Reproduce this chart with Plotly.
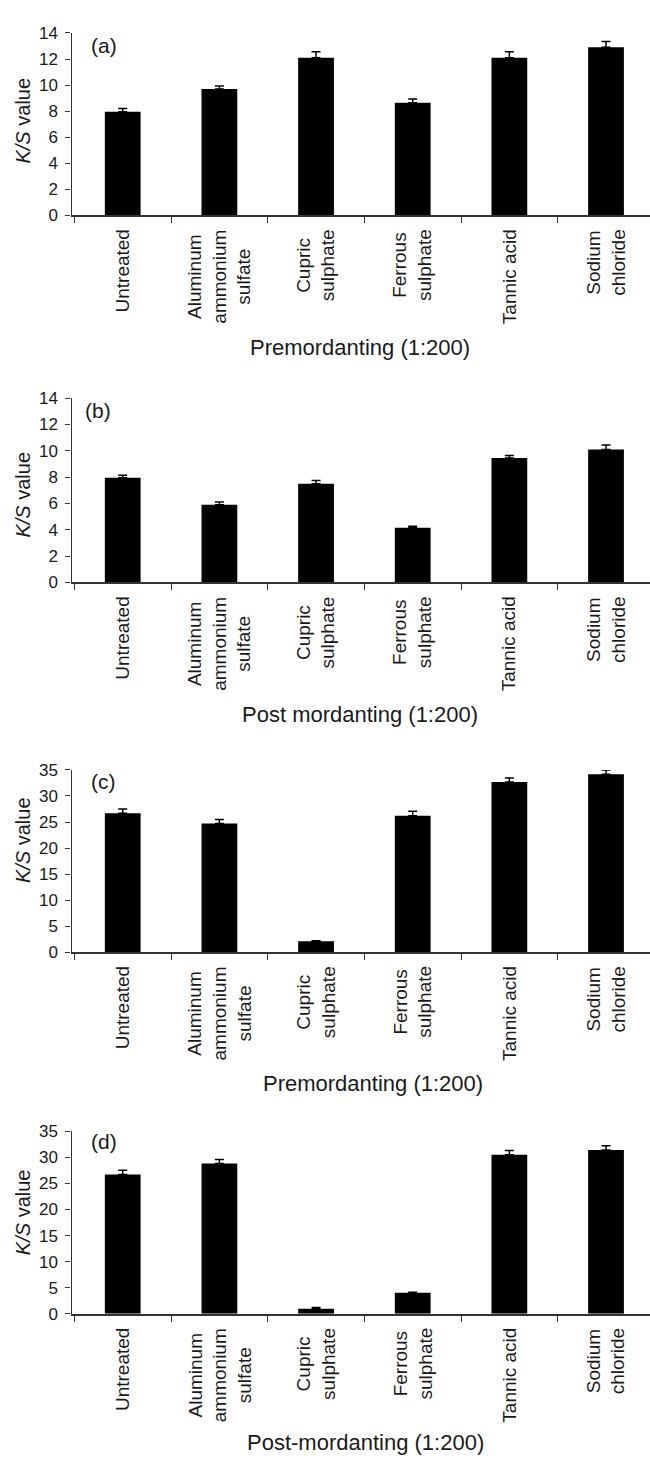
import plotly.graph_objects as go

# Mordant treatments on the x axis (line breaks kept as in the printed labels)
categories = [
    "Untreated",
    "Aluminum<br>ammonium<br>sulfate",
    "Cupric<br>sulphate",
    "Ferrous<br>sulphate",
    "Tannic acid",
    "Sodium<br>chloride",
]

# K/S values and standard errors for each panel
ks_a = [7.95, 9.7, 12.1, 8.65, 12.1, 12.9]
err_a = [0.25, 0.22, 0.45, 0.28, 0.45, 0.45]

ks_b = [7.95, 5.9, 7.5, 4.15, 9.45, 10.1]
err_b = [0.2, 0.22, 0.25, 0.12, 0.2, 0.35]

ks_c = [26.7, 24.7, 2.1, 26.2, 32.7, 34.2]
err_c = [0.8, 0.8, 0.1, 0.85, 0.75, 0.8]

ks_d = [26.7, 28.8, 0.95, 4.05, 30.5, 31.4]
err_d = [0.8, 0.8, 0.25, 0.1, 0.8, 0.8]

panel_tags = ["(a)", "(b)", "(c)", "(d)"]
x_titles = [
    "Premordanting (1:200)",
    "Post mordanting (1:200)",
    "Premordanting (1:200)",
    "Post-mordanting (1:200)",
]
y_max = [14, 14, 35, 35]
y_step = [2, 2, 5, 5]

values = [ks_a, ks_b, ks_c, ks_d]
errors = [err_a, err_b, err_c, err_d]

# ---- page geometry (pixels) ----
W, H = 650, 1463
AXIS_LEFT = 71.5
FONT = "Liberation Sans, Arial, sans-serif"
INK = "#1a1a1a"
AXIS_COLOR = "#333333"

# per panel: plot top, plot bottom, tag (left, centre y), y-title centre y, x-title centre (x, y)
geom = [
    dict(top=24.3, bottom=209.0, tag=(89, 37), ytc=113, xt=(360, 343)),
    dict(top=394.3, bottom=581.0, tag=(83, 407), ytc=492, xt=(360, 715)),
    dict(top=771.0, bottom=955.5, tag=(89, 783), ytc=842, xt=(373, 1089)),
    dict(top=1137.0, bottom=1322.0, tag=(89, 1147), ytc=1219, xt=(366, 1452)),
]


def fx(p):
    return p / W


def fy(p):
    return 1 - p / H


fig = go.Figure()
annotations = []
x_pos = list(range(len(categories)))

for k in range(4):
    n = "" if k == 0 else str(k + 1)
    g = geom[k]
    fig.add_trace(
        go.Bar(
            x=x_pos,
            y=values[k],
            width=0.37,
            marker=dict(color="black", line=dict(width=0)),
            error_y=dict(
                type="data",
                array=errors[k],
                arrayminus=[0] * len(errors[k]),
                symmetric=False,
                color="black",
                thickness=1.5,
                width=4.5,
            ),
            xaxis="x" + n,
            yaxis="y" + n,
            showlegend=False,
        )
    )

    fig.layout["xaxis" + n] = dict(
        domain=[fx(AXIS_LEFT), 1],
        range=[-0.53, 5.455],
        anchor="y" + n,
        tickmode="array",
        tickvals=[i - 0.5 for i in range(len(categories) + 1)],
        showticklabels=False,
        ticks="outside",
        ticklen=6,
        tickwidth=1.3,
        tickcolor=AXIS_COLOR,
        showline=True,
        linecolor=AXIS_COLOR,
        linewidth=1.5,
        showgrid=False,
        zeroline=False,
        fixedrange=True,
    )
    fig.layout["yaxis" + n] = dict(
        domain=[fy(g["bottom"]), fy(g["top"])],
        range=[0, y_max[k]],
        anchor="x" + n,
        dtick=y_step[k],
        tick0=0,
        ticks="outside",
        ticklen=5,
        tickwidth=1.3,
        tickcolor=AXIS_COLOR,
        ticklabelstandoff=4,
        tickfont=dict(family=FONT, size=17, color=INK),
        showline=True,
        linecolor=AXIS_COLOR,
        linewidth=1.3,
        showgrid=False,
        zeroline=False,
        fixedrange=True,
    )

    # panel tag
    annotations.append(dict(
        text=panel_tags[k], xref="paper", yref="paper",
        x=fx(g["tag"][0]), y=fy(g["tag"][1]),
        xanchor="left", yanchor="middle", showarrow=False,
        font=dict(family=FONT, size=21, color=INK),
    ))
    # y-axis title
    annotations.append(dict(
        text="<i>K/S</i> value", xref="paper", yref="paper",
        x=fx(23), y=fy(g["ytc"]), textangle=-90,
        xanchor="center", yanchor="middle", showarrow=False,
        font=dict(family=FONT, size=20, color=INK),
    ))
    # x-axis title
    annotations.append(dict(
        text=x_titles[k], xref="paper", yref="paper",
        x=fx(g["xt"][0]), y=fy(g["xt"][1]),
        xanchor="center", yanchor="middle", showarrow=False,
        font=dict(family=FONT, size=22, color=INK),
    ))
    # rotated category labels, lines centred within each label
    for i, lab in enumerate(categories):
        annotations.append(dict(
            text=lab, xref="x" + n, yref="y" + n + " domain",
            x=i, y=0, yshift=-12, textangle=-90, align="center",
            xanchor="center", yanchor="top", showarrow=False,
            font=dict(family=FONT, size=19, color=INK),
        ))

fig.update_layout(
    width=W,
    height=H,
    margin=dict(l=0, r=0, t=0, b=0),
    paper_bgcolor="white",
    plot_bgcolor="white",
    bargap=0.63,
    annotations=annotations,
)

fig.write_html("out.html")
